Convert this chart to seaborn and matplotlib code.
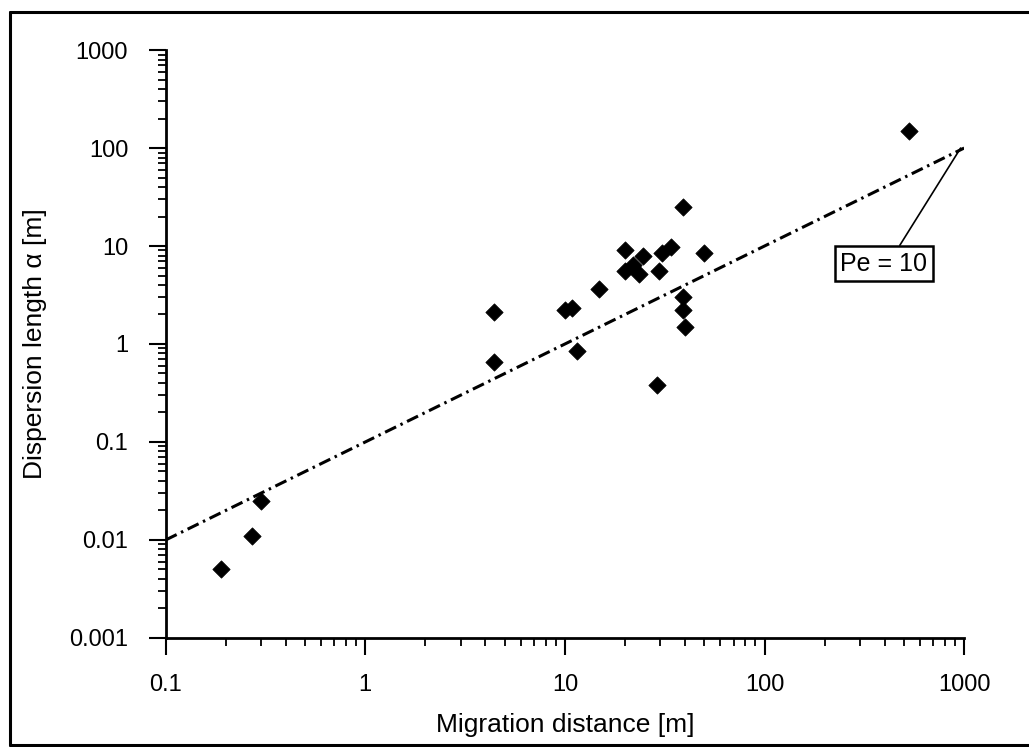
import numpy as np
import pandas as pd
import matplotlib
matplotlib.use("Agg")
import matplotlib.pyplot as plt
import matplotlib.ticker as mticker
from matplotlib.lines import Line2D
import seaborn as sns

# 데이터
migration = [0.19, 0.27, 0.30, 4.4, 4.4, 10.0, 10.8, 11.5, 14.8, 20.0, 20.0, 22.0,
             23.5, 24.5, 29.0, 29.5, 30.5, 34.0, 39.0, 39.0, 39.0, 40.0, 50.0, 530.0]
dispersion = [0.005, 0.011, 0.025, 2.1, 0.65, 2.2, 2.35, 0.85, 3.6, 9.0, 5.5, 6.4,
              5.2, 7.9, 0.38, 5.5, 8.5, 9.8, 25.0, 3.0, 2.2, 1.5, 8.5, 150.0]
pe_x = [0.1, 1000]
pe_y = [0.01, 100]
x_ticks = [0.1, 1, 10, 100, 1000]
x_ticklabels = ["0.1", "1", "10", "100", "1000"]
y_ticks = [0.001, 0.01, 0.1, 1, 10, 100, 1000]
y_ticklabels = ["0.001", "0.01", "0.1", "1", "10", "100", "1000"]

df = pd.DataFrame({"migration": migration, "dispersion": dispersion})
pe_df = pd.DataFrame({"x": pe_x, "y": pe_y})

sns.set_theme(style="ticks")
plt.rcParams['font.family'] = ['Liberation Sans', 'DejaVu Sans']
plt.rcParams['text.color'] = 'black'
plt.rcParams['axes.labelcolor'] = 'black'

fig = plt.figure(figsize=(10.29, 7.47), dpi=100)
ax = fig.add_axes([0.161, 0.146, 0.776, 0.787])

sns.lineplot(data=pe_df, x="x", y="y", ax=ax, color="black", lw=2.2,
             linestyle=(0, (4, 1.6, 0.8, 1.6)))
sns.scatterplot(data=df, x="migration", y="dispersion", ax=ax, marker="D",
                s=78, color="black", edgecolor="black", linewidth=0.5, zorder=3)

ax.set_xscale("log")
ax.set_yscale("log")
ax.set_xlim(0.1, 1000)
ax.set_ylim(0.001, 1000)

ax.xaxis.set_major_locator(mticker.FixedLocator(x_ticks))
ax.xaxis.set_major_formatter(mticker.FixedFormatter(x_ticklabels))
ax.yaxis.set_major_locator(mticker.FixedLocator(y_ticks))
ax.yaxis.set_major_formatter(mticker.FixedFormatter(y_ticklabels))
ax.xaxis.set_minor_locator(mticker.LogLocator(base=10, subs=np.arange(2, 10)))
ax.yaxis.set_minor_locator(mticker.LogLocator(base=10, subs=np.arange(2, 10)))
ax.xaxis.set_minor_formatter(mticker.NullFormatter())
ax.yaxis.set_minor_formatter(mticker.NullFormatter())

ax.tick_params(which="major", direction="out", length=12, width=1.5,
               labelsize=17, colors="black")
ax.tick_params(axis="x", which="major", pad=14)
ax.tick_params(axis="y", which="major", pad=15)
ax.tick_params(which="minor", direction="out", length=6, width=1.3, colors="black")

sns.despine(ax=ax)
for s in ["left", "bottom"]:
    ax.spines[s].set_linewidth(2.0)
    ax.spines[s].set_color("black")

ax.set_xlabel("Migration distance [m]", fontsize=19, labelpad=12)
ax.set_ylabel("Dispersion length α [m]", fontsize=19, labelpad=16)

ax.annotate("Pe = 10", xy=(960, 100), xytext=(395, 6.6),
            ha="center", va="center", fontsize=18,
            bbox=dict(boxstyle="square,pad=0.22", fc="white", ec="black", lw=1.8),
            arrowprops=dict(arrowstyle="-", color="black", lw=1.2,
                            relpos=(0.64, 1.0), shrinkA=0, shrinkB=0))

# 바깥 테두리 (스캔 원본처럼)
for xs, ys in [([0.0097, 1.0], [0.984, 0.984]),
               ([0.0097, 0.0097], [0.003, 0.984]),
               ([0.0097, 1.0], [0.003, 0.003])]:
    fig.add_artist(Line2D(xs, ys, transform=fig.transFigure, color="black", lw=2.2))

fig.savefig("out.png", dpi=100)
plt.close(fig)
